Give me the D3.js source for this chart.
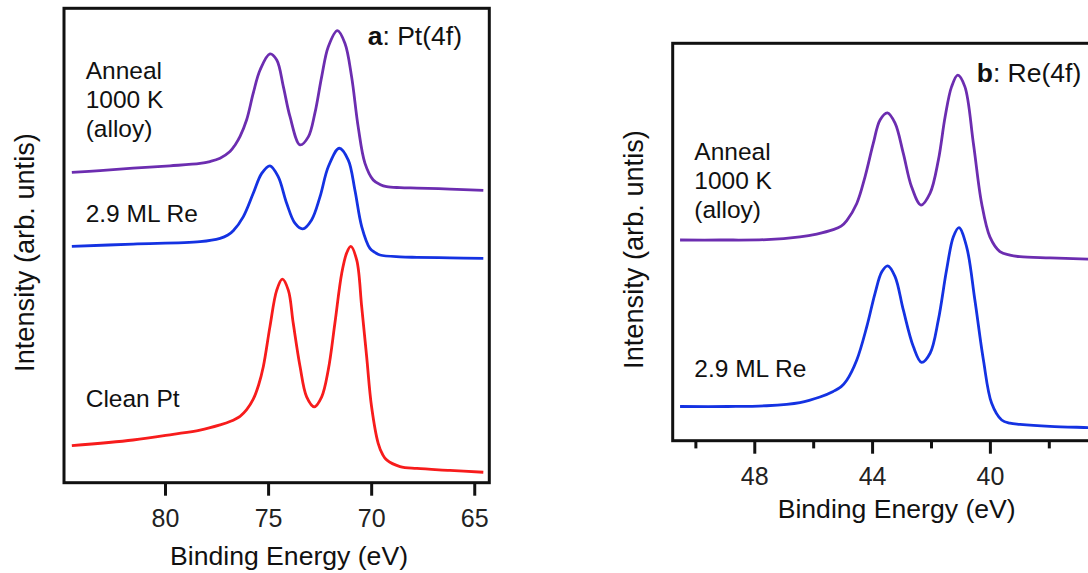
<!DOCTYPE html>
<html>
<head>
<meta charset="utf-8">
<script src="https://cdn.jsdelivr.net/npm/d3@7"></script>
<style>
    html, body { margin: 0; padding: 0; background: #fff; }
    svg { display: block; font-family: 'Liberation Sans', Arial, sans-serif; }
</style>
</head>
<body>
<svg id="chart" width="1088" height="573"></svg>
<script>
// Binding energy (eV), intensity (arb. units, 0-100 of the frame height)
const ptAnneal = [
    [84.52, 65.4], [83.15, 65.8], [81.55, 66.3], [79.76, 66.8], [78.30, 67.3],
    [77.82, 67.7], [77.33, 68.4], [76.85, 69.8], [76.60, 71.2], [76.36, 73.0],
    [76.04, 76.5], [75.72, 82.1], [75.39, 87.0], [74.91, 90.4], [74.58, 89.1],
    [74.26, 83.5], [73.94, 77.2], [73.45, 71.2], [73.05, 72.9], [72.73, 77.9],
    [72.40, 85.6], [72.08, 91.9], [71.64, 95.3], [71.27, 92.6], [70.95, 85.6],
    [70.63, 75.0], [70.30, 67.3], [69.90, 63.8], [69.55, 62.8], [69.25, 62.4],
    [68.60, 62.2], [67.78, 62.1], [66.18, 61.9], [64.56, 61.6]
];
const ptRe = [
    [84.52, 49.8], [81.55, 50.3], [78.30, 50.8], [77.33, 51.5], [76.95, 52.2],
    [76.69, 53.1], [76.20, 56.1], [75.72, 61.0], [75.31, 65.2], [74.91, 66.8],
    [74.51, 64.5], [74.10, 58.9], [73.70, 54.7], [73.32, 53.5], [72.89, 55.4],
    [72.48, 60.3], [72.08, 66.6], [71.55, 70.5], [71.11, 68.0], [70.79, 61.7],
    [70.46, 54.0], [70.06, 49.4], [69.80, 48.5], [69.57, 48.0], [68.60, 47.6],
    [67.78, 47.5], [66.18, 47.4], [64.56, 47.3]
];
const ptClean = [
    [84.52, 7.8], [81.55, 9.0], [79.61, 10.2], [78.30, 11.1], [77.33, 12.2],
    [76.85, 12.9], [76.36, 14.0], [76.04, 15.4], [75.72, 17.6], [75.46, 20.6],
    [75.23, 24.5], [74.91, 32.9], [74.58, 40.6], [74.31, 42.9], [74.02, 40.6],
    [73.78, 33.6], [73.45, 24.5], [73.13, 18.1], [72.76, 16.0], [72.40, 18.1],
    [72.08, 23.8], [71.76, 33.6], [71.43, 44.1], [71.19, 48.4], [70.99, 49.8],
    [70.70, 46.9], [70.46, 37.1], [70.22, 26.6], [69.98, 16.0], [69.66, 8.3],
    [69.45, 6.0], [69.25, 4.8], [68.60, 3.4], [67.78, 3.0], [66.18, 2.6],
    [64.56, 2.2]
];
const reAnneal = [
    [50.52, 50.5], [49.16, 50.5], [47.58, 50.6], [46.45, 51.3], [45.88, 52.0],
    [45.32, 53.1], [45.05, 54.0], [44.86, 55.4], [44.52, 59.7], [44.24, 66.4],
    [43.96, 74.8], [43.73, 80.7], [43.48, 82.5], [43.22, 79.9], [42.94, 72.3],
    [42.66, 63.9], [42.34, 59.3], [42.03, 62.3], [41.75, 70.6], [41.52, 81.5],
    [41.30, 89.1], [41.09, 92.0], [40.85, 89.1], [40.56, 74.8], [40.28, 59.7],
    [40.00, 51.3], [39.66, 47.6], [39.32, 46.7], [38.98, 46.3], [37.96, 46.0],
    [36.67, 45.7], [36.30, 45.6]
];
const reRe = [
    [50.52, 8.6], [48.90, 8.6], [47.58, 8.8], [46.45, 9.6], [45.77, 11.0],
    [45.32, 12.4], [45.05, 13.6], [44.86, 15.2], [44.52, 20.3], [44.18, 28.7],
    [43.90, 37.1], [43.67, 42.5], [43.47, 44.0], [43.22, 41.3], [42.94, 32.9],
    [42.60, 23.7], [42.32, 19.7], [42.03, 22.0], [41.75, 30.4], [41.47, 43.0],
    [41.24, 51.3], [41.05, 53.6], [40.79, 48.8], [40.51, 35.4], [40.22, 20.3],
    [39.94, 9.4], [39.60, 5.2], [39.32, 4.4], [38.98, 4.1], [37.96, 3.6],
    [36.67, 3.3], [36.30, 3.2]
];

const ptTicks = [80, 75, 70, 65];
const reTicks = [48, 44, 40];
const reMinorTicks = [50, 46, 42, 38];

const PURPLE = '#6c2db0', BLUE = '#1432e2', RED = '#f71c1c';

document.addEventListener('DOMContentLoaded', () => {
    'use strict';

    let svg = d3.select('#chart');

    let drawPanel = (p) => {
        let x = d3.scaleLinear().domain(p.xDomain).range([p.left, p.right]);
        let y = d3.scaleLinear().domain([0, 100]).range([p.bottom, p.top]);
        let g = svg.append('g').attr('class', 'panel-' + p.id);

        g.append('clipPath')
            .attr('id', 'clip-' + p.id)
          .append('rect')
            .attr('x', p.left).attr('y', p.top)
            .attr('width', p.right - p.left).attr('height', p.bottom - p.top);

        let line = d3.line()
            .x(d => x(d[0]))
            .y(d => y(d[1]))
            .curve(d3.curveCatmullRom.alpha(0.5));

        g.append('g')
            .attr('clip-path', 'url(#clip-' + p.id + ')')
            .selectAll('path')
            .data(p.series)
          .enter().append('path')
            .attr('d', d => line(d.values))
            .attr('fill', 'none')
            .attr('stroke', d => d.color)
            .attr('stroke-width', 2.8)
            .attr('stroke-linejoin', 'round');

        // frame
        g.append('rect')
            .attr('x', p.left).attr('y', p.top)
            .attr('width', p.right - p.left).attr('height', p.bottom - p.top)
            .attr('fill', 'none')
            .attr('stroke', '#111')
            .attr('stroke-width', 3);

        let axis = g.append('g')
            .attr('transform', 'translate(0,' + p.bottom + ')')
            .call(d3.axisBottom(x).tickValues(p.ticks).tickSizeInner(13).tickSizeOuter(0).tickPadding(13.5).tickFormat(d3.format('d')));
        axis.select('.domain').remove();
        axis.selectAll('line').attr('stroke', '#111').attr('stroke-width', 3);
        axis.selectAll('text')
            .attr('fill', '#222')
            .style('font-size', '25px');

        if (p.minorTicks) {
            let minor = g.append('g')
                .attr('transform', 'translate(0,' + p.bottom + ')')
                .call(d3.axisBottom(x).tickValues(p.minorTicks).tickSizeInner(7.7).tickSizeOuter(0).tickFormat(''));
            minor.select('.domain').remove();
            minor.selectAll('line').attr('stroke', '#111').attr('stroke-width', 3);
        }

        g.append('text')
            .attr('x', p.xTitle[0]).attr('y', p.xTitle[1])
            .attr('text-anchor', 'middle')
            .style('font-size', '26.6px')
            .attr('fill', '#111')
            .text('Binding Energy (eV)');

        g.append('text')
            .attr('transform', 'translate(' + p.yTitle[0] + ',' + p.yTitle[1] + ') rotate(-90)')
            .attr('text-anchor', 'middle')
            .style('font-size', '27.2px')
            .attr('fill', '#111')
            .text('Intensity (arb. untis)');

        let title = g.append('text')
            .attr('x', p.title.x).attr('y', p.title.y)
            .style('font-size', '26.5px')
            .attr('fill', '#111');
        title.append('tspan').style('font-weight', 'bold').text(p.title.letter);
        title.append('tspan').text(': ' + p.title.text);

        p.labels.forEach(lab => {
            lab.lines.forEach((t, i) => {
                g.append('text')
                    .attr('x', lab.x)
                    .attr('y', lab.y + i * 28.8)
                    .style('font-size', '24.5px')
                    .attr('fill', '#111')
                    .text(t);
            });
        });
    };

    drawPanel({
        id: 'a',
        left: 64, right: 489.3, top: 8.3, bottom: 482.7,
        xDomain: [84.9, 64.27],
        ticks: ptTicks,
        series: [
            {values: ptAnneal, color: PURPLE},
            {values: ptRe, color: BLUE},
            {values: ptClean, color: RED}
        ],
        xTitle: [289, 565],
        yTitle: [33.5, 252.5],
        title: {x: 367.7, y: 44.5, letter: 'a', text: 'Pt(4f)'},
        labels: [
            {x: 85.7, y: 79, lines: ['Anneal', '1000 K', '(alloy)']},
            {x: 85.7, y: 221.7, lines: ['2.9 ML Re']},
            {x: 85.7, y: 406.7, lines: ['Clean Pt']}
        ]
    });

    drawPanel({
        id: 'b',
        left: 672.7, right: 1107.7, top: 43.3, bottom: 440.7,
        xDomain: [50.77, 36],
        ticks: reTicks,
        minorTicks: reMinorTicks,
        series: [
            {values: reAnneal, color: PURPLE},
            {values: reRe, color: BLUE}
        ],
        xTitle: [896.7, 518.3],
        yTitle: [643.3, 249.5],
        title: {x: 976.7, y: 82, letter: 'b', text: 'Re(4f)'},
        labels: [
            {x: 694.3, y: 160, lines: ['Anneal', '1000 K', '(alloy)']},
            {x: 694.3, y: 376.7, lines: ['2.9 ML Re']}
        ]
    });
});
</script>
</body>
</html>
